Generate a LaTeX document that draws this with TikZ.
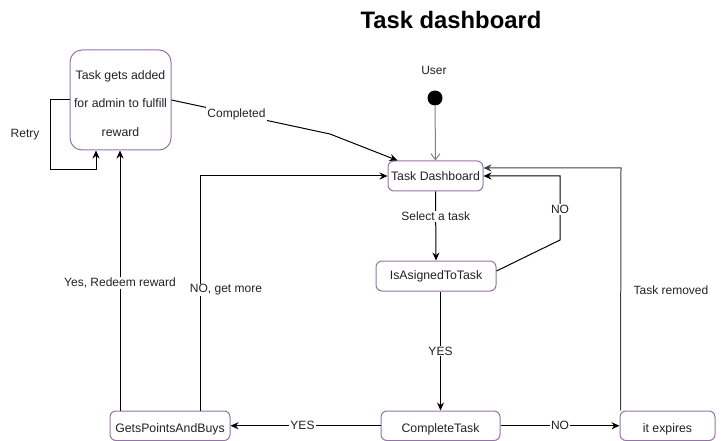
\documentclass[tikz,border=0pt]{standalone}
\usepackage{fontspec}
\setmainfont{Liberation Sans}
\usetikzlibrary{arrows.meta}
\definecolor{boxpurple}{HTML}{9673A6}
\definecolor{txt}{HTML}{222222}
\tikzset{
  box/.style={draw=boxpurple, line width=1pt, rounded corners=6pt, fill=white, inner sep=0pt,
    text=txt, font=\fontsize{12.3}{14}\selectfont, align=center},
  arr/.style={draw=black, line width=1pt, -{Stealth[length=8pt,width=7pt]}},
  lab/.style={fill=white, inner sep=1pt, text=txt, font=\fontsize{12}{14}\selectfont},
  freelab/.style={inner sep=1pt, text=txt, font=\fontsize{12}{14}\selectfont},
}
\newcommand{\lowtext}[1]{\raisebox{-4pt}[9pt][3pt]{#1}}
\begin{document}
\begin{tikzpicture}[x=1pt,y=-1pt]
\useasboundingbox (0,0) rectangle (721,441);
\node[font=\bfseries\fontsize{23.8}{28}\selectfont, text=black] (title) at (451,20) {Task dashboard};

\node[box, rounded corners=12pt, minimum width=101pt, minimum height=100pt,
      font=\fontsize{12.3}{28.7}\selectfont] (tga) at (120.5,100) {\rule{0pt}{22pt}Task gets added\\for admin to fulfill\\reward\rule[-6pt]{0pt}{6pt}};
\node[freelab] (user) at (434,70) {User};
\node[circle, fill=black, minimum size=15pt, inner sep=0pt] (dot) at (435,98) {};
\node[box, minimum width=95pt, minimum height=30pt] (td) at (435.5,176) {Task Dashboard};
\node[box, minimum width=120pt, minimum height=30pt] (ia) at (436,276) {IsAsignedToTask};
\node[box, minimum width=119pt, minimum height=29.5pt] (ct) at (440.5,425.75) {\lowtext{CompleteTask}};
\node[box, minimum width=95pt, minimum height=29.5pt] (ie) at (667.5,425.75) {\lowtext{it expires}};
\node[box, minimum width=120pt, minimum height=29.5pt] (gp) at (170,425.75) {\lowtext{GetsPointsAndBuys}};

% User start
\draw[line width=1pt, draw=gray, -{Straight Barb[length=6pt,width=9pt]}] (dot) -- (td.north);
% Select a task
\draw[arr] (td.south) -- node[lab, pos=0.36]{Select a task} (ia.north);
% NO back to dashboard
\draw[arr] ([yshift=5pt]ia.east) -- (560,240) -- node[lab, pos=0.48]{NO} (560,176) -- (td.east);
% YES to complete
\draw[arr] (ia.south -| ct.north) -- node[lab]{YES} (ct.north);
% NO to expires
\draw[arr] (ct.east) -- node[lab]{NO} (ie.west);
% YES to gets points
\draw[arr] (ct.west) -- node[lab, pos=0.52]{YES} (gp.east);
% Task removed
\draw[line width=1pt, draw=black!75, -{Stealth[length=8pt,width=7pt]}] ([xshift=1pt]ie.north west) -- (621,168) -- ([yshift=8pt]td.east);
\node[freelab] (trlab) at (671,290) {Task removed};
% NO, get more
\draw[arr] ([xshift=30pt]gp.north) -- (200,176) -- (td.west);
\node[lab] (nglab) at (226,290) {NO, get more};
% Yes, Redeem reward
\draw[arr] ([xshift=-50pt]gp.north) -- node[lab, pos=0.49]{Yes, Redeem reward} (tga.south -| 120,0);
% Retry
\draw[arr] (tga.west) -- (50,100) -- (50,170) -| ([xshift=-24.5pt]tga.south);
\node[freelab] (retry) at (25,135) {Retry};
% Completed
\draw[arr] (tga.east) -- node[lab, pos=0.41]{Completed} (330,134) -- ([xshift=10pt]td.north west);
\end{tikzpicture}
\end{document}
